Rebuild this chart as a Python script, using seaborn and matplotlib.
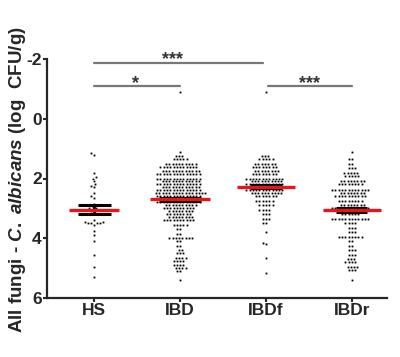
import matplotlib
matplotlib.use("Agg")
import matplotlib.pyplot as plt
import numpy as np
import pandas as pd
import seaborn as sns

groups = ["HS", "IBD", "IBDf", "IBDr"]

hs_values = [1.15, 1.2, 1.8, 1.95, 2.0, 2.1, 2.2, 2.25, 2.3, 2.5, 2.6, 2.65,
             2.85, 2.9, 2.95, 3.0, 3.0, 3.05, 3.1, 3.15, 3.2, 3.4, 3.45, 3.45,
             3.5, 3.5, 3.5, 3.5, 3.55, 3.75, 3.9, 4.1, 4.55, 4.95, 5.3]

ibd_levels = [-0.9, 1.1, 1.25, 1.35, 1.5, 1.6, 1.75, 1.85, 2.0, 2.1, 2.2, 2.3,
              2.4, 2.5, 2.6, 2.7, 2.8, 2.9, 3.0, 3.1, 3.2, 3.3, 3.4, 3.55, 3.7,
              3.85, 4.0, 4.1, 4.25, 4.4, 4.5, 4.65, 4.75, 4.9, 5.0, 5.1, 5.4]
ibd_counts = [1, 1, 3, 5, 10, 12, 12, 14, 14, 12, 14, 12, 14, 16, 14, 16, 14,
              10, 10, 8, 8, 8, 10, 5, 2, 2, 8, 2, 2, 2, 3, 4, 4, 4, 4, 2, 1]

ibdf_levels = [-0.9, 1.25, 1.35, 1.5, 1.6, 1.75, 1.85, 2.0, 2.1, 2.2, 2.3, 2.4,
               2.5, 2.6, 2.75, 2.9, 3.05, 3.2, 3.35, 3.5, 3.8, 4.15, 4.2, 4.65, 5.15]
ibdf_counts = [1, 3, 5, 7, 8, 8, 8, 12, 10, 12, 12, 12, 10, 7, 6, 5, 4, 3, 3, 2,
               1, 1, 1, 1, 1]

ibdr_levels = [1.1, 1.35, 1.5, 1.65, 1.8, 1.9, 2.1, 2.2, 2.4, 2.5, 2.6, 2.75,
               2.9, 3.0, 3.1, 3.2, 3.35, 3.5, 3.65, 3.8, 3.95, 4.1, 4.25, 4.4,
               4.55, 4.7, 4.8, 4.95, 5.05, 5.4]
ibdr_counts = [1, 2, 2, 3, 5, 5, 8, 8, 12, 8, 10, 8, 8, 12, 8, 6, 12, 4, 3, 3,
               8, 2, 2, 3, 3, 3, 4, 4, 3, 1]

# significance brackets: (start group, end group, line height, label, label x)
brackets = [(0, 1.97, -1.87, "***", 0.91),
            (0, 1.0, -1.08, "*", 0.48),
            (2.02, 3.0, -1.08, "***", 2.51)]

values = {
    "HS": np.array(hs_values),
    "IBD": np.repeat(ibd_levels, ibd_counts),
    "IBDf": np.repeat(ibdf_levels, ibdf_counts),
    "IBDr": np.repeat(ibdr_levels, ibdr_counts),
}
df = pd.concat([pd.DataFrame({"group": g, "value": v}) for g, v in values.items()],
               ignore_index=True)

sns.set_style("ticks")
plt.rcParams["font.family"] = ["Liberation Sans", "DejaVu Sans"]
plt.rcParams["font.weight"] = "bold"
plt.rcParams["axes.unicode_minus"] = False
plt.rcParams["mathtext.fontset"] = "custom"
plt.rcParams["mathtext.it"] = "Liberation Sans:italic:bold"
plt.rcParams["mathtext.rm"] = "Liberation Sans:bold"

fig = plt.figure(figsize=(4.0, 3.57), dpi=100)
ax = fig.add_axes([0.1175, 0.165, 0.85, 0.67])

# thin white edge keeps a small gap between neighbouring dots
sns.swarmplot(data=df, x="group", y="value", order=groups, color="black",
              size=1.9, linewidth=0.35, edgecolor="white", ax=ax, zorder=2)

red_half = [0.29, 0.35, 0.34, 0.34]
sem_half = [0.19, 0.24, 0.19, 0.18]
for i, g in enumerate(groups):
    v = values[g]
    m = v.mean()
    sem = v.std(ddof=1) / np.sqrt(len(v))
    ax.hlines([m - sem, m + sem], i - sem_half[i], i + sem_half[i],
              color="black", lw=2.2, zorder=4)
    ax.vlines(i, m - sem, m + sem, color="black", lw=2.0, zorder=4)
    ax.hlines(m, i - red_half[i], i + red_half[i], color="#e8141c", lw=2.4, zorder=5)

for a, b, h, lab, tx in brackets:
    ax.plot([a, b], [h, h], color="#777777", lw=1.6, clip_on=False, zorder=3)
    ax.text(tx, h + 0.04, lab, ha="center", va="baseline",
            fontsize=13, fontweight="bold", color="#333333", clip_on=False)

ax.set_ylim(6, -2)
ax.set_xlim(-0.55, 3.41)
ax.set_yticks([-2, 0, 2, 4, 6])
ax.set_xlabel("")
ax.set_ylabel(r"All fungi - $\mathit{C.\ albicans}$ (log  CFU/g)",
              fontsize=13.5, fontweight="bold")
ax.yaxis.set_label_coords(-0.057, 0.496)
sns.despine(ax=ax)
for s in ["left", "bottom"]:
    ax.spines[s].set_linewidth(1.6)
ax.tick_params(width=1.5, length=3, labelsize=12.5, pad=0.8)
for lbl in ax.get_xticklabels() + ax.get_yticklabels():
    lbl.set_fontweight("bold")

fig.savefig("out.png", dpi=100)
